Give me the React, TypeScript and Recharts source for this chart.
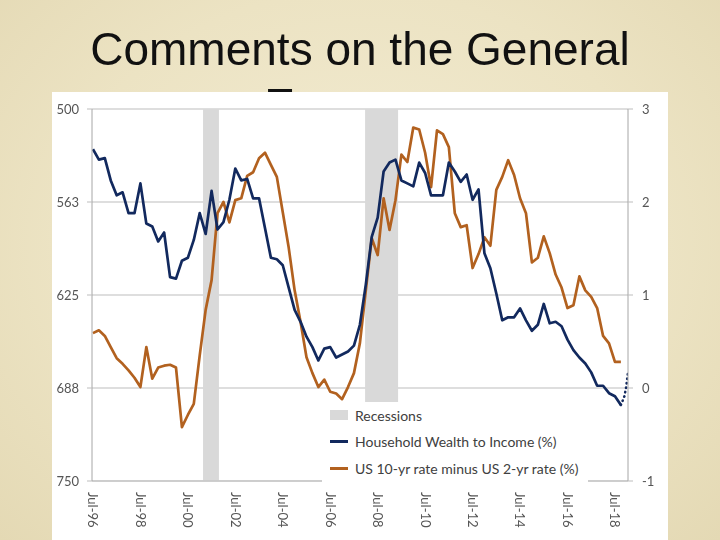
import React from 'react';
import { ComposedChart, Line, XAxis, YAxis, CartesianGrid, ReferenceArea, Legend } from 'recharts';

// quarterly series, first point Jul-96
const startYear = 1996.5;

const wealthToIncome = [
  527, 534, 533, 548, 558, 556, 570, 570, 550, 577,
  579, 589, 583, 613, 614, 602, 600, 588, 570, 584,
  555, 581, 576, 561, 540, 548, 547, 560, 560, 580,
  600, 601, 605, 620, 635, 643, 653, 660, 669, 661,
  660, 667, 665, 663, 659, 645, 618, 586, 573, 542,
  536, 534, 548, 550, 552, 536, 543, 558, 558, 558,
  536, 542, 549, 544, 561, 554, 597, 607, 624, 642,
  640, 640, 634, 642, 649, 645, 631, 644, 643, 646,
  655, 662, 667, 671, 677, 686, 686, 691, 693, 699,
];

const yieldSpread = [
  0.59, 0.62, 0.56, 0.44, 0.32, 0.26, 0.19, 0.11, 0.01, 0.44,
  0.10, 0.22, 0.24, 0.25, 0.22, -0.42, -0.29, -0.17, 0.35, 0.84,
  1.16, 1.88, 2.00, 1.78, 2.02, 2.04, 2.28, 2.32, 2.47, 2.53,
  2.40, 2.27, 1.89, 1.51, 1.05, 0.71, 0.33, 0.16, 0.01, 0.09,
  -0.04, -0.06, -0.12, 0.01, 0.16, 0.48, 1.05, 1.61, 1.43, 2.04,
  1.70, 2.02, 2.51, 2.43, 2.80, 2.78, 2.53, 2.16, 2.77, 2.73,
  2.59, 1.88, 1.73, 1.75, 1.29, 1.44, 1.62, 1.53, 2.13, 2.27,
  2.45, 2.29, 2.04, 1.88, 1.35, 1.40, 1.63, 1.45, 1.22, 1.08,
  0.86, 0.89, 1.20, 1.05, 0.98, 0.86, 0.56, 0.48, 0.28, 0.28,
];

// dotted tail at the end of the wealth line
const projectionDates = [2018.75, 2018.9, 2018.97, 2019.05];
const projectionValues = [699, 693, 687, 677];

const recessions = [
  [2001.14, 2001.81],
  [2007.97, 2009.36],
];

const xTicks = [1996.5, 1998.5, 2000.5, 2002.5, 2004.5, 2006.5, 2008.5, 2010.5, 2012.5, 2014.5, 2016.5, 2018.5];
const xTickLabels = ['Jul-96', 'Jul-98', 'Jul-00', 'Jul-02', 'Jul-04', 'Jul-06', 'Jul-08', 'Jul-10', 'Jul-12', 'Jul-14', 'Jul-16', 'Jul-18'];
const leftTicks = [500, 562.5, 625, 687.5, 750];
const rightTicks = [-1, 0, 1, 2, 3];

const NAVY = '#12295e';
const BROWN = '#b2611f';
const GRID = '#bdbdbd';
const TEXT = '#555555';
const FONT = 'Lato, "Liberation Sans", sans-serif';

const data = wealthToIncome.map((v, i) => ({
  t: startYear + i * 0.25,
  hh: v,
  spread: yieldSpread[i],
}));

const projection = projectionDates.map((t, i) => ({ t, proj: projectionValues[i] }));

const legendItems = [
  { label: 'Recessions', kind: 'box', color: '#d9d9d9' },
  { label: 'Household Wealth to Income (%)', kind: 'line', color: NAVY },
  { label: 'US 10-yr rate minus US 2-yr rate (%)', kind: 'line', color: BROWN },
];

function LegendBox() {
  return (
    <div style={{ background: '#fff', paddingLeft: 8, paddingRight: 10, fontFamily: FONT, fontSize: 14, color: '#404040' }}>
      {legendItems.map(item => (
        <div key={item.label} style={{ display: 'flex', alignItems: 'center', height: 26.5 }}>
          <span style={{
            display: 'inline-block', width: 18, marginRight: 7,
            height: item.kind === 'box' ? 10 : 3,
            background: item.color,
          }} />
          <span>{item.label}</span>
        </div>
      ))}
    </div>
  );
}

const xTickLabel = (props: any) => {
  const { x, y, payload } = props;
  const idx = xTicks.indexOf(payload.value);
  return (
    <text transform={`translate(${x},${y}) rotate(90)`} dy="0.35em" textAnchor="start"
      fill={TEXT} fontSize={13} fontFamily={FONT}>
      {xTickLabels[idx]}
    </text>
  );
};

const noLabel = () => <g />;

export default function App() {
  return (
    <div style={{
      position: 'fixed', left: 0, top: 0, width: 720, height: 540, overflow: 'hidden',
      background: 'radial-gradient(ellipse at 50% 45%, #f3ecd3 0%, #ece3c3 60%, #e4d9b4 100%)',
    }}>
      <div style={{
        position: 'absolute', left: 0, top: 21, width: 720, textAlign: 'center',
        fontFamily: '"Liberation Sans", Arial, sans-serif', fontSize: 46, lineHeight: '56px', color: '#111',
      }}>
        Comments on the General<br />Economy
      </div>
      <div style={{ position: 'absolute', left: 52, top: 92, width: 616, height: 448, background: '#fff' }}>
        <ComposedChart width={616} height={448} data={data} margin={{ top: 17, right: 0, bottom: 0, left: 0 }}>
          <CartesianGrid yAxisId="left" xAxisId="b" vertical={false} stroke={GRID} strokeWidth={1} />
          <XAxis xAxisId="top" orientation="top" type="number" dataKey="t" domain={[1996.46, 2019.05]}
            allowDataOverflow ticks={xTicks} height={0} mirror tickSize={4} tick={noLabel} interval={0}
            axisLine={{ stroke: GRID }} tickLine={{ stroke: '#8c8c8c' }} />
          <XAxis xAxisId="b" type="number" dataKey="t" domain={[1996.46, 2019.05]} allowDataOverflow
            ticks={xTicks} height={59} tickSize={0} tickMargin={11} tick={xTickLabel}
            axisLine={{ stroke: GRID }} interval={0} />
          <YAxis yAxisId="left" orientation="left" width={40} domain={[500, 750]} reversed
            ticks={leftTicks} tickFormatter={(v: number) => String(Math.round(v))} interval={0}
            tick={{ fill: TEXT, fontSize: 13, fontFamily: FONT }} tickSize={5} tickMargin={8}
            axisLine={{ stroke: '#a6a6a6' }} tickLine={{ stroke: GRID }} allowDataOverflow />
          <YAxis yAxisId="right" orientation="right" width={40} domain={[-1, 3]}
            ticks={rightTicks} interval={0}
            tick={{ fill: TEXT, fontSize: 13, fontFamily: FONT }} tickSize={5} tickMargin={9}
            axisLine={{ stroke: '#a6a6a6' }} tickLine={{ stroke: GRID }} allowDataOverflow />
          {recessions.map(([a, b]) => (
            <ReferenceArea key={a} xAxisId="b" yAxisId="left" x1={a} x2={b}
              fill="#d9d9d9" fillOpacity={1} stroke="none" />
          ))}
          <Line xAxisId="b" yAxisId="right" dataKey="spread" stroke={BROWN} strokeWidth={2.7}
            dot={false} isAnimationActive={false} strokeLinejoin="round" />
          <Line xAxisId="b" yAxisId="left" dataKey="hh" stroke={NAVY} strokeWidth={2.7}
            dot={false} isAnimationActive={false} strokeLinejoin="round" />
          <Line xAxisId="b" yAxisId="left" data={projection} dataKey="proj" stroke={NAVY} strokeWidth={2.5}
            strokeDasharray="0.5 4" strokeLinecap="round" dot={false} isAnimationActive={false} />
          <Legend layout="vertical" align="center" verticalAlign="middle"
            wrapperStyle={{ left: 270, top: 310, width: 'auto' }} content={() => <LegendBox />} />
        </ComposedChart>
      </div>
    </div>
  );
}
